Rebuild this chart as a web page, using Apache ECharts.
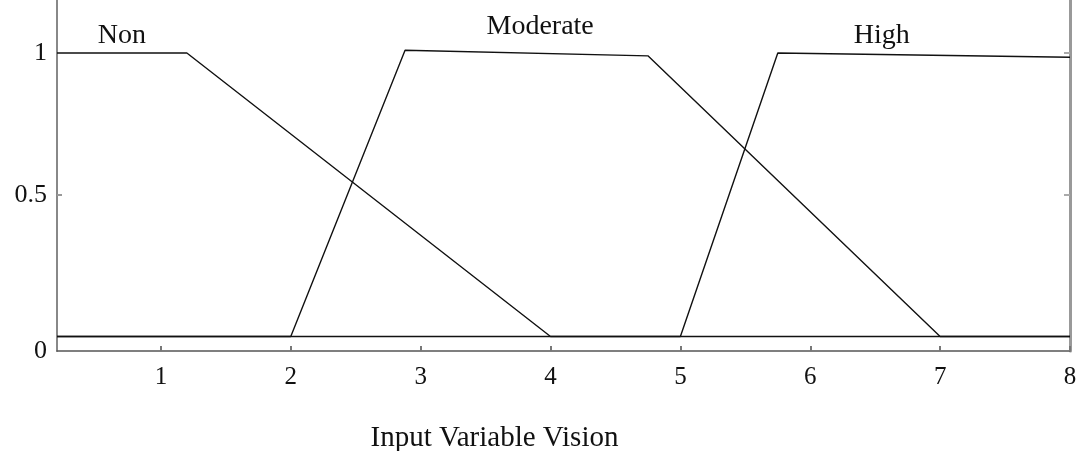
<!DOCTYPE html>
<html>
<head>
<meta charset="utf-8">
<script src="https://cdn.jsdelivr.net/npm/echarts@6/dist/echarts.min.js"></script>
<style>
  html, body { margin: 0; padding: 0; background: #fff; }
  #char1 { width: 1076px; height: 451px; }
</style>
</head>
<body>
<div id="char1"></div>
<script>
// membership functions (x, degree)
var nonX = [0.2, 1.2, 4.0, 8.0];
var nonY = [1, 1, 0, 0];
var modX = [0.2, 2.0, 2.88, 4.75, 7.0, 8.0];
var modY = [0, 0, 1.01, 0.99, 0, 0];
var highX = [0.2, 5.0, 5.75, 8.0];
var highY = [0, 0, 1.0, 0.985];

var names = ['Non', 'Moderate', 'High'];
var namePos = [[0.7, 1], [3.92, 1.01], [6.55, 1]];
var xTicks = [1, 2, 3, 4, 5, 6, 7, 8];
var xMin = 0.2, xMax = 8;
var yMin = -0.051, yMax = 1.187;
var yTicks = [yMin, 0.5, 1];

function zip(xs, ys) {
    return xs.map(function (x, i) { return [x, ys[i]]; });
}

var serif = '"Liberation Serif", "DejaVu Serif", serif';
var myChart = echarts.init(document.getElementById('char1'));

var lines = [zip(nonX, nonY), zip(modX, modY), zip(highX, highY)];
var series = lines.map(function (d, i) {
    return {
        name: names[i],
        type: 'line',
        data: d,
        symbol: 'none',
        silent: true,
        lineStyle: { color: '#111', width: 1.4 },
        markPoint: {
            symbol: 'circle',
            symbolSize: 0,
            data: [{ coord: namePos[i], value: names[i] }],
            label: {
                show: true,
                position: 'top',
                distance: i == 1 ? 10 : 3,
                formatter: names[i],
                color: '#111',
                fontFamily: serif,
                fontSize: 28
            }
        }
    };
});

var option = {
    animation: false,
    grid: { left: 57, right: 6, top: 0, bottom: 100, outerBoundsMode: 'none', containLabel: false },
    xAxis: {
        type: 'value',
        min: xMin,
        max: xMax,
        name: 'Input Variable Vision',
        nameLocation: 'middle',
        nameGap: 73,
        nameTextStyle: {
            color: '#111', fontFamily: serif, fontSize: 29,
            padding: [0, 138, 0, 0]
        },
        axisLine: { onZero: false, lineStyle: { color: '#555', width: 1.5 } },
        axisTick: { inside: true, length: 5, customValues: xTicks, lineStyle: { color: '#777', width: 2 } },
        axisLabel: {
            customValues: xTicks,
            margin: 14,
            color: '#111', fontFamily: serif, fontSize: 25
        },
        splitLine: { show: false }
    },
    yAxis: [
        {
            type: 'value',
            min: yMin,
            max: yMax,
            axisLine: { show: true, onZero: false, lineStyle: { color: '#888', width: 2 } },
            axisTick: { inside: true, length: 5, customValues: [0.5], lineStyle: { color: '#999', width: 2 } },
            axisLabel: {
                customValues: yTicks,
                margin: 10,
                color: '#111', fontFamily: serif, fontSize: 26,
                formatter: function (v) {
                    if (Math.abs(v - yMin) < 0.01) return '0';
                    return String(v);
                }
            },
            splitLine: { show: false }
        },
        {
            type: 'value',
            position: 'right',
            min: yMin,
            max: yMax,
            axisLine: { show: true, onZero: false, lineStyle: { color: '#999', width: 3 } },
            axisTick: { inside: true, length: 6, customValues: [0.5, 1], lineStyle: { color: '#aaa', width: 2 } },
            axisLabel: { show: false },
            splitLine: { show: false }
        }
    ],
    series: series
};

myChart.setOption(option);
window.addEventListener('resize', function () { myChart.resize(); });
</script>
</body>
</html>
